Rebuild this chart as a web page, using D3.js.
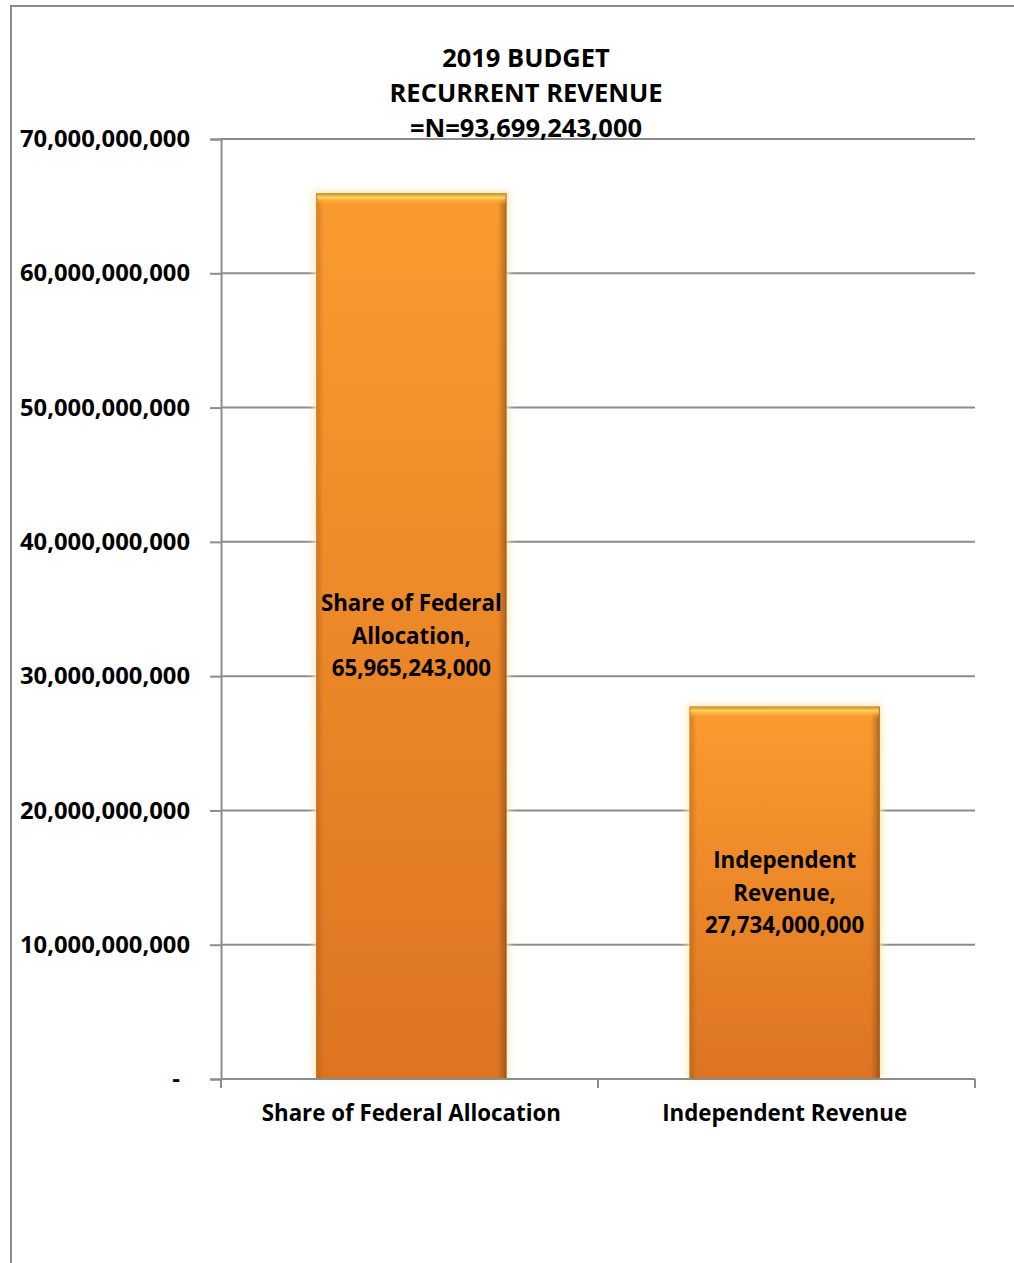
<!DOCTYPE html>
<html>
<head>
<meta charset="utf-8">
<script src="https://cdn.jsdelivr.net/npm/d3@7"></script>
<style>
  body { margin: 0; background: #fff; }
  svg text { font-family: "Open Sans", sans-serif; font-weight: bold; fill: #000; }
</style>
</head>
<body>
<div id="chart"></div>
<script>
// Data
const categories = ["Share of Federal Allocation", "Independent Revenue"];
const values = [65965243000, 27734000000];
const barLabels = [
  ["Share of Federal", "Allocation,", "65,965,243,000"],
  ["Independent", "Revenue,", "27,734,000,000"]
];
const yTicks = [0, 10e9, 20e9, 30e9, 40e9, 50e9, 60e9, 70e9];
const titleLines = ["2019 BUDGET", "RECURRENT REVENUE", "=N=93,699,243,000"];

const width = 1014, height = 1263;
const plot = { left: 221, right: 975, top: 139, bottom: 1079 };

const svg = d3.select("#chart")
  .append("svg")
  .attr("width", width)
  .attr("height", height);

// chart frame (runs off the right and bottom edges)
svg.append("rect")
  .attr("x", 11).attr("y", 6)
  .attr("width", 1100).attr("height", 1400)
  .attr("fill", "#fff")
  .attr("stroke", "#8c8c8c")
  .attr("stroke-width", 2);

const x = d3.scaleBand()
  .domain(categories)
  .range([plot.left, plot.right])
  .paddingInner(0.49)
  .paddingOuter(0.255);

const y = d3.scaleLinear()
  .domain([0, 70e9])
  .range([plot.bottom, plot.top]);

const defs = svg.append("defs");
const vGrad = defs.append("linearGradient")
  .attr("id", "barV").attr("x1", 0).attr("y1", 0).attr("x2", 0).attr("y2", 1);
vGrad.append("stop").attr("offset", "0%").attr("stop-color", "#fb9b2e");
vGrad.append("stop").attr("offset", "100%").attr("stop-color", "#dc7422");

const hGrad = defs.append("linearGradient")
  .attr("id", "barH").attr("x1", 0).attr("y1", 0).attr("x2", 1).attr("y2", 0);
hGrad.append("stop").attr("offset", "0%").attr("stop-color", "#8a4a10").attr("stop-opacity", 0.35);
hGrad.append("stop").attr("offset", "4%").attr("stop-color", "#8a4a10").attr("stop-opacity", 0);
hGrad.append("stop").attr("offset", "95%").attr("stop-color", "#8a4a10").attr("stop-opacity", 0);
hGrad.append("stop").attr("offset", "100%").attr("stop-color", "#5a3010").attr("stop-opacity", 0.5);

const topGrad = defs.append("linearGradient")
  .attr("id", "barTop").attr("x1", 0).attr("y1", 0).attr("x2", 0).attr("y2", 1);
topGrad.append("stop").attr("offset", "0%").attr("stop-color", "#c78a2a");
topGrad.append("stop").attr("offset", "35%").attr("stop-color", "#fcd55c");
topGrad.append("stop").attr("offset", "100%").attr("stop-color", "#fb9b2e").attr("stop-opacity", 0);

const glow = defs.append("filter").attr("id", "glow")
  .attr("x", "-10%").attr("y", "-5%").attr("width", "120%").attr("height", "110%");
glow.append("feGaussianBlur").attr("stdDeviation", 3);

// gridlines
svg.append("g")
  .selectAll("line")
  .data(yTicks.slice(1))
  .join("line")
  .attr("x1", plot.left).attr("x2", plot.right)
  .attr("y1", d => y(d)).attr("y2", d => y(d))
  .attr("stroke", "#8c8c8c")
  .attr("stroke-width", 2);

// y axis
const yAxis = svg.append("g")
  .attr("transform", `translate(${plot.left},0)`)
  .call(d3.axisLeft(y)
    .tickValues(yTicks)
    .tickSize(11)
    .tickPadding(20)
    .tickFormat(d => d === 0 ? "-" : d3.format(",")(d)));
yAxis.select(".domain").attr("stroke", "#8c8c8c").attr("stroke-width", 2);
yAxis.selectAll(".tick line").attr("stroke", "#8c8c8c").attr("stroke-width", 2);
yAxis.selectAll(".tick text")
  .attr("font-size", 23.8)
  .attr("font-family", null)
  .attr("fill", "#000");
// the zero label ("-") sits a little left, like an accounting format
yAxis.selectAll(".tick text").filter(d => d === 0).attr("dx", -10);

// bars
const bars = svg.append("g")
  .selectAll("g")
  .data(categories.map((c, i) => ({ c, v: values[i], lab: barLabels[i] })))
  .join("g");

bars.append("rect")
  .attr("x", d => x(d.c) - 3)
  .attr("y", d => y(d.v) - 3)
  .attr("width", x.bandwidth() + 6)
  .attr("height", d => y(0) - y(d.v) + 3)
  .attr("fill", "#fde9b8")
  .attr("opacity", 0.8)
  .attr("filter", "url(#glow)");

bars.append("rect")
  .attr("x", d => x(d.c))
  .attr("y", d => y(d.v))
  .attr("width", x.bandwidth())
  .attr("height", d => y(0) - y(d.v))
  .attr("fill", "url(#barV)");

bars.append("rect")
  .attr("x", d => x(d.c))
  .attr("y", d => y(d.v))
  .attr("width", x.bandwidth())
  .attr("height", d => y(0) - y(d.v))
  .attr("fill", "url(#barH)");

bars.append("rect")
  .attr("x", d => x(d.c) + 1)
  .attr("y", d => y(d.v))
  .attr("width", x.bandwidth() - 2)
  .attr("height", 12)
  .attr("fill", "url(#barTop)");

// data labels
bars.append("text")
  .attr("text-anchor", "middle")
  .attr("font-size", 22.3)
  .selectAll("tspan")
  .data(d => d.lab.map((t, i) => ({
    t, i,
    cx: x(d.c) + x.bandwidth() / 2,
    cy: (y(d.v) + y(0)) / 2
  })))
  .join("tspan")
  .attr("x", d => d.cx)
  .attr("y", d => d.cy + (d.i - 1) * 32.5)
  .attr("dy", "0.35em")
  .text(d => d.t);

// x axis
const xAxis = svg.append("g")
  .attr("transform", `translate(0,${plot.bottom})`);
xAxis.append("line")
  .attr("x1", plot.left).attr("x2", plot.right)
  .attr("stroke", "#8c8c8c").attr("stroke-width", 2);
// boundaries between categories
const bounds = [plot.left, (x(categories[0]) + x.bandwidth() + x(categories[1])) / 2, plot.right];
xAxis.selectAll(".xt")
  .data(bounds)
  .join("line")
  .attr("class", "xt")
  .attr("x1", d => d).attr("x2", d => d)
  .attr("y1", 0).attr("y2", 9)
  .attr("stroke", "#8c8c8c").attr("stroke-width", 2);
xAxis.selectAll(".xl")
  .data(categories)
  .join("text")
  .attr("class", "xl")
  .attr("x", d => x(d) + x.bandwidth() / 2)
  .attr("y", 34)
  .attr("dy", "0.35em")
  .attr("text-anchor", "middle")
  .attr("font-size", 22.3)
  .text(d => d);

// title
svg.append("text")
  .attr("text-anchor", "middle")
  .attr("font-size", 25.5)
  .selectAll("tspan")
  .data(titleLines)
  .join("tspan")
  .attr("x", 526)
  .attr("y", (d, i) => 58 + i * 35)
  .attr("dy", "0.35em")
  .text(d => d);
</script>
</body>
</html>
